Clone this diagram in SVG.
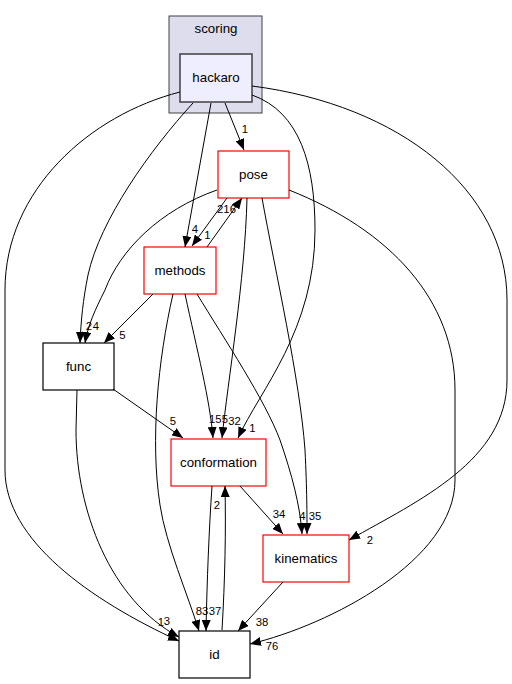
<svg xmlns="http://www.w3.org/2000/svg" width="512" height="684" viewBox="0 0 512 684">
<defs>
<style>
.n{font-family:"Liberation Sans",Arial,sans-serif;font-size:13.3px;text-anchor:middle;fill:#000}
.l{font-family:"Liberation Sans",Arial,sans-serif;font-size:11.3px;text-anchor:middle;fill:#000}
.e path{fill:none;stroke:#000;stroke-width:1;marker-end:url(#a)}
.r{fill:#fff;stroke:#ff0000;stroke-width:1.2}
.b{fill:#fff;stroke:#000;stroke-width:1.2}
</style>
<marker id="a" markerWidth="11" markerHeight="9" refX="11" refY="4.5" orient="auto" markerUnits="userSpaceOnUse"><path d="M0,0L11,4.5L0,9z" fill="#000"/></marker>
</defs>
<rect width="512" height="684" fill="#fff"/>
<g id="cluster_scoring">
<rect x="169" y="16" width="93" height="97" fill="#ddddee" stroke="#404040" stroke-width="1"/>
<text class="n" x="216" y="33">scoring</text>
</g>
<g id="hackaro">
<rect x="180" y="54" width="72" height="48" fill="#eeeeff" stroke="#404040" stroke-width="1.5"/>
<text class="n" x="216" y="82">hackaro</text>
</g>
<g id="pose">
<rect class="r" x="218" y="151" width="71" height="47"/>
<text class="n" x="253.5" y="179">pose</text>
</g>
<g id="methods">
<rect class="r" x="144" y="247" width="72" height="47"/>
<text class="n" x="180" y="275">methods</text>
</g>
<g id="func">
<rect class="b" x="43" y="343" width="71" height="47"/>
<text class="n" x="78.5" y="371">func</text>
</g>
<g id="conformation">
<rect class="r" x="171" y="439" width="95" height="47"/>
<text class="n" x="218.5" y="467">conformation</text>
</g>
<g id="kinematics">
<rect class="r" x="263" y="535" width="86" height="47"/>
<text class="n" x="306" y="563">kinematics</text>
</g>
<g id="id">
<rect class="b" x="179" y="631" width="71" height="47"/>
<text class="n" x="214.5" y="659">id</text>
</g>
<g id="edges" class="e">
<path d="M225,103L244,150"/>
<path d="M211,103L185,247"/>
<path d="M193,103C150,150 100,220 88,275C83,300 81,320 80,343"/>
<path d="M180,92C90,115 5,190 5,290L5,470C5,540 90,600 179,641"/>
<path d="M252,95C300,112 315,165 315,230C315,330 260,390 238,438"/>
<path d="M252,86C400,105 507,190 507,300L507,380C507,460 420,500 349,540"/>
<path d="M217,190C160,210 120,250 105,290C95,310 88,325 85,343"/>
<path d="M227,198L192,246"/>
<path d="M247,198C245,280 228,380 222,438"/>
<path d="M262,198C275,270 300,380 305,450C307,490 307,515 307,534"/>
<path d="M289,190C390,230 455,300 455,390L455,480C455,560 330,625 250,644"/>
<path d="M207,247L242,198"/>
<path d="M153,294L104,343"/>
<path d="M185,294C197,350 210,400 213,438"/>
<path d="M197,294C225,340 265,400 280,440C292,475 300,505 302,534"/>
<path d="M173,294C158,360 150,440 160,505C166,545 188,595 199,631"/>
<path d="M113,389L183,438"/>
<path d="M77,390L76,430C76,510 110,600 179,637"/>
<path d="M240,486L283,534"/>
<path d="M212,486C209,530 207,580 206,631"/>
<path d="M222,630C225,580 226,530 225,486"/>
<path d="M283,582L238,631"/>
</g>
<g id="labels">
<text class="l" x="245" y="133">1</text>
<text class="l" x="195" y="233">4</text>
<text class="l" x="207.5" y="239">1</text>
<text class="l" x="226.5" y="213">216</text>
<text class="l" x="89" y="330">2</text>
<text class="l" x="96" y="330">4</text>
<text class="l" x="122.5" y="339">5</text>
<text class="l" x="173" y="425">5</text>
<text class="l" x="218.5" y="423">155</text>
<text class="l" x="234.5" y="425">32</text>
<text class="l" x="252.5" y="432">1</text>
<text class="l" x="217" y="509">2</text>
<text class="l" x="279" y="518">34</text>
<text class="l" x="302.5" y="520">4</text>
<text class="l" x="315" y="520">35</text>
<text class="l" x="370" y="544">2</text>
<text class="l" x="161" y="626">1</text>
<text class="l" x="167" y="625">3</text>
<text class="l" x="202" y="615">83</text>
<text class="l" x="215" y="615">37</text>
<text class="l" x="262" y="626">38</text>
<text class="l" x="272" y="650">76</text>
</g>
</svg>
